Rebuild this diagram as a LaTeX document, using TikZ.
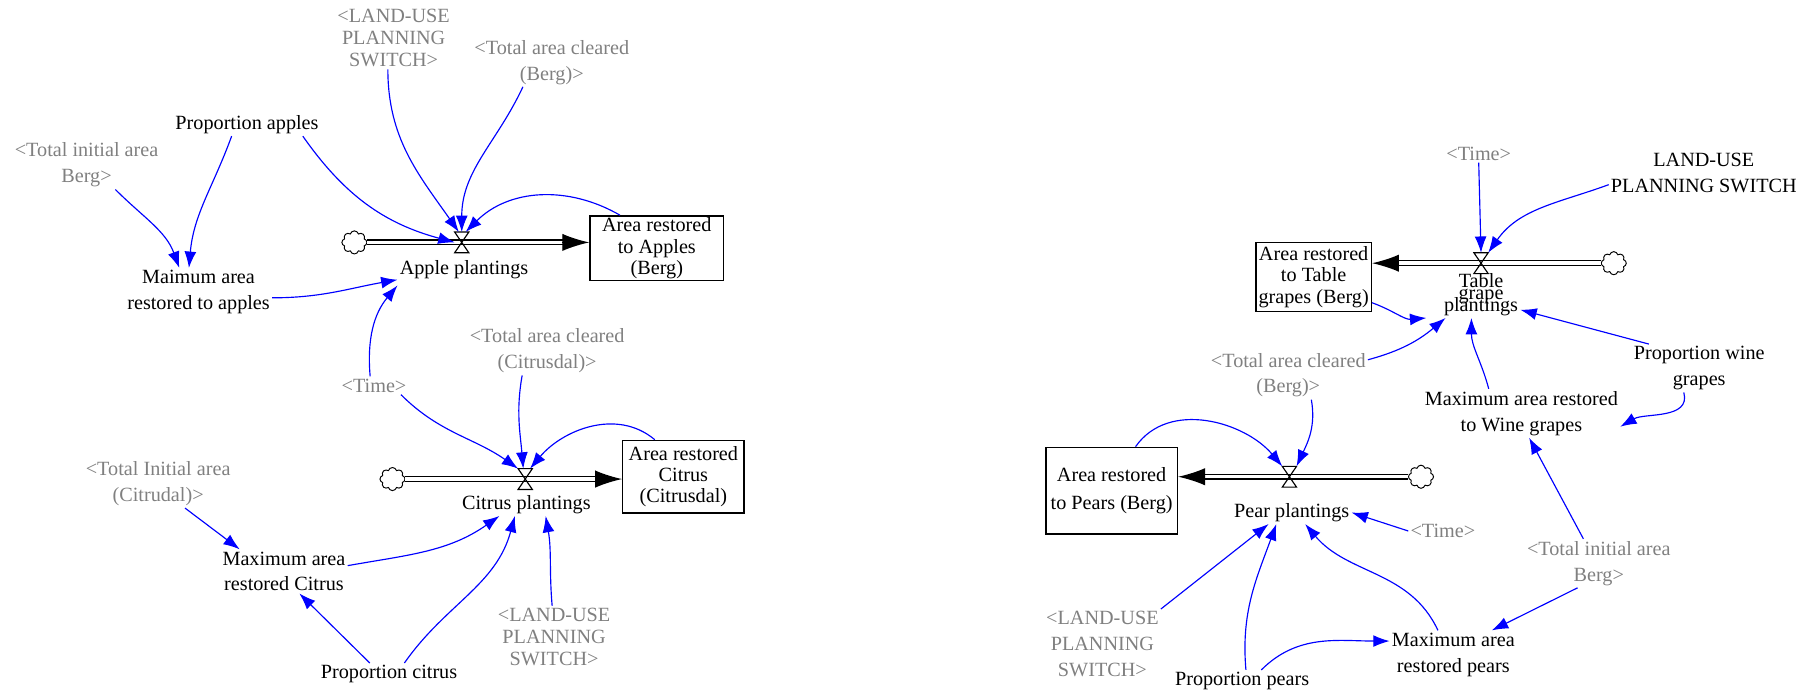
\documentclass[tikz,border=0pt]{standalone}
\usepackage{fontspec}
\setmainfont{Liberation Serif}
\usetikzlibrary{arrows.meta,positioning,shapes.symbols}
\definecolor{linkblue}{RGB}{0,0,255}
\definecolor{shadowgray}{RGB}{128,128,128}
\tikzset{
  sd-var/.style={align=center, inner sep=1pt, font=\fontsize{10.5}{13.5}\selectfont},
  sd-shadow/.style={sd-var, text=shadowgray},
  sd-tight/.style={font=\fontsize{10.5}{11.5}\selectfont},
  sd-overlap/.style={font={\fontsize{10.5}{6.3}\selectfont\lineskiplimit=-20pt\relax}},
  sd-stock/.style={draw, line width=0.7pt, align=center, inner sep=1pt,
    font=\fontsize{10.5}{11}\selectfont},
  sd-link/.style={draw=linkblue, line width=0.6pt, -{Latex[length=8.5pt,width=6.2pt]}},
  sd-pipe/.style={draw, double, double distance=1.8pt, line width=0.7pt},
  sd-head/.style={-{Latex[length=14pt,width=9pt]}, line width=0.7pt},
  sd-valve/.style={minimum width=7pt, minimum height=10.4pt, inner sep=0pt},
  sd-cloud/.style={cloud, cloud puffs=8, aspect=1.1, draw, line width=0.5pt,
    minimum width=13pt, minimum height=12pt, inner sep=0pt}
}

\begin{document}
\begin{tikzpicture}[x=0.6pt, y=0.6pt]
  \useasboundingbox (0,0) rectangle (1568,601);

  % Apples
  \node[sd-shadow, sd-tight] (lupsA) at (341,568) {<LAND-USE\\PLANNING\\SWITCH>};
  \node[sd-shadow] (tacbA) at (478,547) {<Total area cleared\\(Berg)>};
  \node[sd-var] (propA) at (214,493) {Proportion apples};
  \node[sd-shadow] (tiabA) at (75,458) {<Total initial area\\Berg>};
  \node[sd-var] (maxA) at (172,348) {Maimum area\\restored to apples};
  \node[sd-cloud] (cloudA) at (307,391) {};
  \node[sd-valve] (valveA) at (400,391) {};
  \node[sd-var] (plA) at (402,367) {Apple plantings};
  \node[sd-stock, minimum width=69.6pt, minimum height=33.6pt] (boxA) at (569,386)
    {Area restored\\to Apples\\(Berg)};

  % Citrus
  \node[sd-shadow] (timeA) at (324,267) {<Time>};
  \node[sd-shadow] (tacc) at (474,297) {<Total area cleared\\(Citrusdal)>};
  \node[sd-shadow] (tiac) at (137,182) {<Total Initial area\\(Citrudal)>};
  \node[sd-cloud] (cloudC) at (340,186) {};
  \node[sd-valve] (valveC) at (455,186) {};
  \node[sd-var] (plC) at (456,164) {Citrus plantings};
  \node[sd-stock, minimum width=63pt, minimum height=37.8pt] (boxC) at (592,188)
    {Area restored\\Citrus\\(Citrusdal)};
  \node[sd-var] (maxC) at (246,106) {Maximum area\\restored Citrus};
  \node[sd-shadow, sd-tight] (lupsC) at (480,49) {<LAND-USE\\PLANNING\\SWITCH>};
  \node[sd-var] (propC) at (337,17) {Proportion citrus};

  % Table grapes
  \node[sd-shadow] (timeT) at (1281,468) {<Time>};
  \node[sd-var] (lupsT) at (1476,451) {LAND-USE\\PLANNING SWITCH};
  \node[sd-stock, minimum width=60pt, minimum height=36pt] (boxT) at (1138,361)
    {Area restored\\to Table\\grapes (Berg)};
  \node[sd-cloud] (cloudT) at (1398,373) {};
  \node[sd-valve] (valveT) at (1283,373) {};
  \node[sd-var, sd-overlap] (plT) at (1283,346) {Table\\grape\\plantings};
  \node[sd-shadow] (tacbT) at (1116,276) {<Total area cleared\\(Berg)>};
  \node[sd-var] (maxW) at (1318,243) {Maximum area restored\\to Wine grapes};
  \node[sd-var] (propW) at (1472,282) {Proportion wine\\grapes};

  % Pears
  \node[sd-stock, minimum width=68.4pt, minimum height=45pt, font=\fontsize{10.5}{14.5}\selectfont]
    (boxP) at (963,176) {Area restored\\to Pears (Berg)};
  \node[sd-valve] (valveP) at (1117,188) {};
  \node[sd-cloud] (cloudP) at (1231,188) {};
  \node[sd-var] (plP) at (1119,157) {Pear plantings};
  \node[sd-shadow] (timeP) at (1250,141) {<Time>};
  \node[sd-shadow] (lupsP) at (955,43) {<LAND-USE\\PLANNING\\SWITCH>};
  \node[sd-var] (propP) at (1076,11) {Proportion pears};
  \node[sd-var] (maxP) at (1259,34) {Maximum area\\restored pears};
  \node[sd-shadow] (tiabP) at (1385,113) {<Total initial area\\Berg>};

  % pipes into the stocks
  \draw[sd-pipe, shorten >=10pt] (cloudA.east) -- (cloudA.east -| boxA.west);
  \draw[sd-head] ([xshift=-14pt]cloudA.east -| boxA.west) -- (cloudA.east -| boxA.west);
  \draw[sd-pipe, shorten >=10pt] (cloudC.east) -- (cloudC.east -| boxC.west);
  \draw[sd-head] ([xshift=-14pt]cloudC.east -| boxC.west) -- (cloudC.east -| boxC.west);
  \draw[sd-pipe, shorten >=10pt] (cloudT.west) -- (cloudT.west -| boxT.east);
  \draw[sd-head] ([xshift=14pt]cloudT.west -| boxT.east) -- (cloudT.west -| boxT.east);
  \draw[sd-pipe, shorten >=10pt] (cloudP.west) -- (cloudP.west -| boxP.east);
  \draw[sd-head] ([xshift=14pt]cloudP.west -| boxP.east) -- (cloudP.west -| boxP.east);

  % valves
  \foreach \v in {valveA,valveC,valveT,valveP}
    \draw[line width=0.6pt] (\v.north west) -- (\v.north east) -- (\v.south west)
      -- (\v.south east) -- cycle;

  % links: apples
  \draw[sd-link] ([xshift=-3pt]lupsA.south) to[out=-90, in=125] ([xshift=-1.5pt]valveA.north);
  \draw[sd-link] ([xshift=-15pt]tacbA.south) to[out=-115, in=90] (valveA.north);
  \draw[sd-link] ([xshift=29pt]propA.south) to[out=-55, in=165] (valveA.west);
  \draw[sd-link] ([xshift=16pt]boxA.north west) to[out=150, in=45] ([xshift=2pt]valveA.north);
  \draw[sd-link] ([xshift=-8pt]propA.south) to[out=-110, in=85] ([xshift=-5pt]maxA.north);
  \draw[sd-link] ([xshift=15pt]tiabA.south) to[out=-45, in=110] ([xshift=-10pt]maxA.north);
  \draw[sd-link] ([yshift=-3pt]maxA.east) to[out=0, in=190] ([yshift=-5pt]plA.west);
  \draw[sd-link] ([xshift=-2pt]timeA.north) to[out=95, in=230] ([yshift=-2pt]plA.south west);

  % links: citrus
  \draw[sd-link] ([xshift=14pt]timeA.south) to[out=-45, in=145] (valveC.north west);
  \draw[sd-link] ([xshift=-13pt]tacc.south) to[out=-100, in=95] ([xshift=-1pt]valveC.north);
  \draw[sd-link] ([xshift=17pt]boxC.north west) to[out=140, in=50] ([xshift=2.5pt]valveC.north);
  \draw[sd-link] ([xshift=14pt]tiac.south) -- ([xshift=-23pt]maxC.north);
  \draw[sd-link] ([yshift=3pt]maxC.east) to[out=10, in=215] ([xshift=-14pt]plC.south);
  \draw[sd-link] ([xshift=-10pt]propC.north) -- ([xshift=8pt]maxC.south);
  \draw[sd-link] ([xshift=8pt]propC.north) to[out=55, in=-105] ([xshift=-6pt]plC.south);
  \draw[sd-link] ([xshift=-1pt]lupsC.north) to[out=95, in=-80] ([xshift=10pt]plC.south);

  % links: table grapes
  \draw[sd-link] (timeT.south) -- (valveT.north);
  \draw[sd-link] ([yshift=-6pt]lupsT.west) to[out=200, in=55] (valveT.north east);
  \draw[sd-link] ([yshift=5pt]boxT.south east) to[out=-20, in=185] ([xshift=-8pt]plT.south west);
  \draw[sd-link] ([yshift=8pt]tacbT.east) to[out=15, in=220] ([xshift=2pt]plT.south west);
  \draw[sd-link] ([xshift=-17pt]maxW.north) to[out=105, in=-90] ([xshift=-5pt]plT.south);
  \draw[sd-link] ([xshift=9pt]propW.north west) -- ([yshift=-8pt]plT.east);
  \draw[sd-link] ([xshift=-8pt]propW.south) to[out=-75, in=30] ([yshift=-7pt]maxW.east);
  \draw[sd-link] ([xshift=-8pt]tiabP.north) -- ([xshift=4pt]maxW.south);

  % links: pears
  \draw[sd-link] ([xshift=47pt]boxP.north west) to[out=55, in=130] (valveP.north west);
  \draw[sd-link] ([xshift=12pt]tacbT.south) to[out=-80, in=65] (valveP.north east);
  \draw[sd-link] (timeP.west) -- (plP.east);
  \draw[sd-link] (lupsP.north east) -- ([xshift=-12pt]plP.south);
  \draw[sd-link] ([xshift=2pt]propP.north) to[out=95, in=-110] ([xshift=-8pt]plP.south);
  \draw[sd-link] ([xshift=10pt]propP.north) to[out=45, in=180] ([yshift=7pt]maxP.west);
  \draw[sd-link] ([xshift=-8pt]maxP.north) to[out=115, in=-50] ([xshift=7pt]plP.south);
  \draw[sd-link] ([xshift=-11pt]tiabP.south) -- ([xshift=20pt]maxP.north);
\end{tikzpicture}
\end{document}
